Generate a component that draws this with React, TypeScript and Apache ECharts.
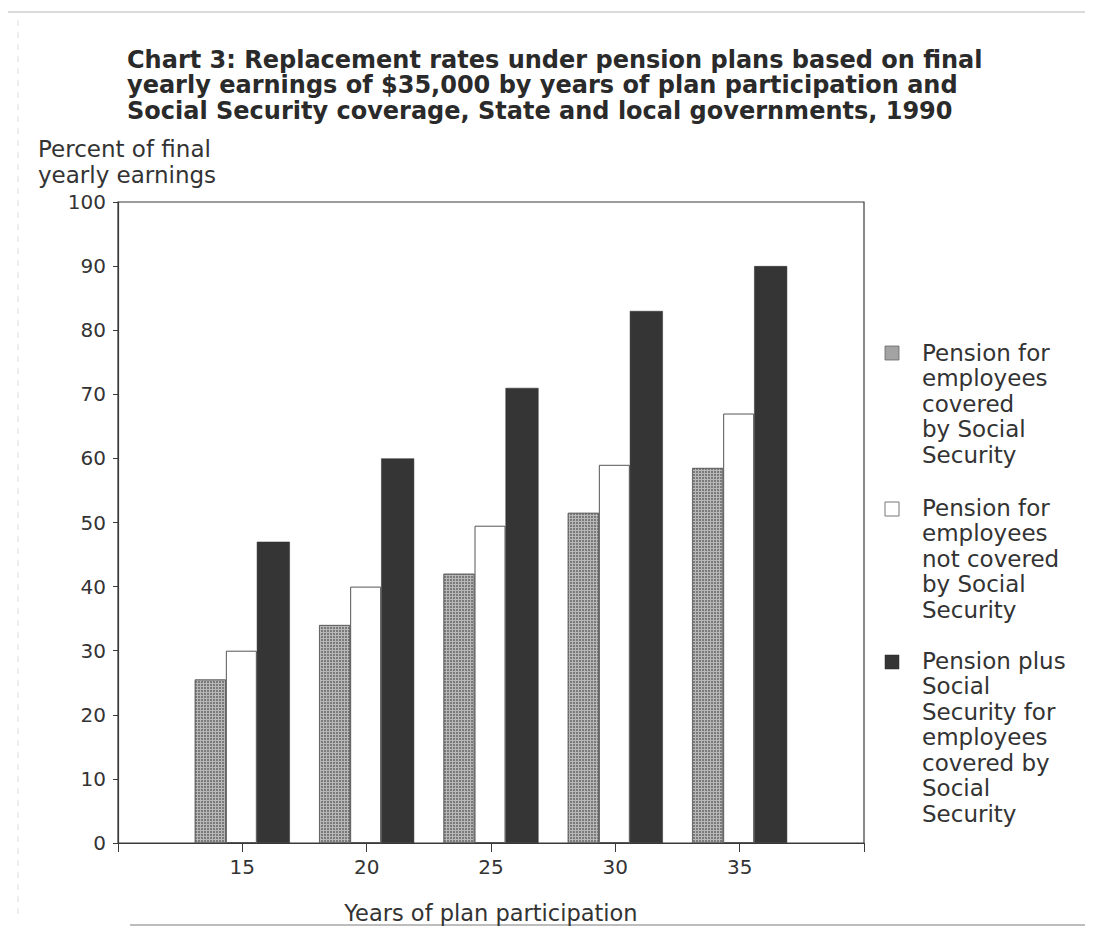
import React, { useEffect, useRef } from "react";
import * as echarts from "echarts";

const years = [15, 20, 25, 30, 35];
const coveredPension = [25.5, 34, 42, 51.5, 58.5];
const notCoveredPension = [30, 40, 49.5, 59, 67];
const pensionPlusSS = [47, 60, 71, 83, 90];
const seriesNames = [
  "Pension for employees covered by Social Security",
  "Pension for employees not covered by Social Security",
  "Pension plus Social Security for employees covered by Social Security",
];
const legendLines = [
  "Pension for\nemployees\ncovered\nby Social\nSecurity",
  "Pension for\nemployees\nnot covered\nby Social\nSecurity",
  "Pension plus\nSocial\nSecurity for\nemployees\ncovered by\nSocial\nSecurity",
];
const titleText =
  "Chart 3: Replacement rates under pension plans based on final\nyearly earnings of $35,000 by years of plan participation and\nSocial Security coverage, State and local governments, 1990";

const FONT = "DejaVu Sans";

export default function App() {
  const ref = useRef<HTMLDivElement>(null);
  useEffect(() => {
    if (!ref.current) return;
    const chart = echarts.init(ref.current, null, { renderer: "svg" });
    const pair = (vals: number[]) => vals.map((v, i) => [years[i], v]);
    const option: any = {
      animation: false,
      backgroundColor: "#ffffff",
      grid: {
        left: 118,
        top: 202,
        right: 229,
        bottom: 96,
        show: true,
        borderColor: "#3a3a3a",
        borderWidth: 1.2,
      },
      xAxis: {
        type: "value",
        min: 10,
        max: 40,
        interval: 5,
        splitLine: { show: false },
        axisLine: { show: true, lineStyle: { color: "#3a3a3a", width: 1.2 } },
        axisTick: { show: true, length: 9, lineStyle: { color: "#3a3a3a" } },
        axisLabel: {
          margin: 14,
          fontFamily: FONT,
          fontSize: 20,
          color: "#333",
          formatter: (v: number) => (v === 10 || v === 40 ? "" : String(v)),
        },
        name: "Years of plan participation",
        nameLocation: "middle",
        nameGap: 58,
        nameTextStyle: { fontFamily: FONT, fontSize: 22.5, color: "#333" },
      },
      yAxis: {
        type: "value",
        min: 0,
        max: 100,
        interval: 10,
        splitLine: { show: false },
        axisLine: { show: true, lineStyle: { color: "#3a3a3a", width: 1.2 } },
        axisTick: { show: true, length: 5, lineStyle: { color: "#3a3a3a" } },
        axisLabel: { margin: 12, fontFamily: FONT, fontSize: 20, color: "#333" },
      },
      series: [
        {
          name: seriesNames[0],
          type: "bar",
          barWidth: 31,
          barGap: "0%",
          data: pair(coveredPension),
          itemStyle: {
            color: "#b8b8b8",
            borderColor: "#555",
            borderWidth: 0.6,
            decal: {
              symbol: "rect",
              symbolSize: 1,
              color: "rgba(70,70,70,0.55)",
              dashArrayX: [2, 1],
              dashArrayY: [2, 1],
              rotation: 0,
            },
          },
        },
        {
          name: seriesNames[1],
          type: "bar",
          barWidth: 31,
          barGap: "0%",
          data: pair(notCoveredPension),
          itemStyle: { color: "#ffffff", borderColor: "#555", borderWidth: 1 },
        },
        {
          name: seriesNames[2],
          type: "bar",
          barWidth: 33,
          barGap: "0%",
          data: pair(pensionPlusSS),
          itemStyle: { color: "#353535", borderColor: "#2a2a2a", borderWidth: 0.5 },
        },
      ],
      graphic: [
        {
          type: "line",
          shape: { x1: 0, y1: 12, x2: 1093, y2: 12 },
          style: { stroke: "#cfcfcf", lineWidth: 1.5 },
        },
        {
          type: "line",
          shape: { x1: 130, y1: 925, x2: 1093, y2: 925 },
          style: { stroke: "#bdbdbd", lineWidth: 2 },
        },
        {
          type: "line",
          shape: { x1: 18, y1: 20, x2: 18, y2: 915 },
          style: { stroke: "#dddddd", lineWidth: 1, lineDash: [6, 6] },
        },
        {
          type: "text",
          left: 127,
          top: 47,
          style: {
            text: titleText,
            font: `bold 24px "${FONT}"`,
            fill: "#2a2a2a",
            lineHeight: 25.5,
          },
        },
        {
          type: "text",
          left: 38,
          top: 136,
          style: {
            text: "Percent of final\nyearly earnings",
            font: `23px "${FONT}"`,
            fill: "#333",
            lineHeight: 26,
          },
        },
        {
          type: "rect",
          shape: { x: 885, y: 346, width: 14, height: 14 },
          style: { fill: "#a3a3a3", stroke: "#666", lineWidth: 0.8 },
        },
        {
          type: "rect",
          shape: { x: 885, y: 502, width: 14, height: 14 },
          style: { fill: "#ffffff", stroke: "#777", lineWidth: 1 },
        },
        {
          type: "rect",
          shape: { x: 885, y: 655, width: 14, height: 14 },
          style: { fill: "#353535", stroke: "#2a2a2a", lineWidth: 0.5 },
        },
        {
          type: "text",
          left: 922,
          top: 340,
          style: { text: legendLines[0], font: `23px "${FONT}"`, fill: "#333", lineHeight: 25.5 },
        },
        {
          type: "text",
          left: 922,
          top: 495,
          style: { text: legendLines[1], font: `23px "${FONT}"`, fill: "#333", lineHeight: 25.5 },
        },
        {
          type: "text",
          left: 922,
          top: 648,
          style: { text: legendLines[2], font: `23px "${FONT}"`, fill: "#333", lineHeight: 25.5 },
        },
      ],
    };
    chart.setOption(option);
    return () => chart.dispose();
  }, []);
  return <div ref={ref} style={{ width: 1093, height: 939, margin: -8 }} />;
}
